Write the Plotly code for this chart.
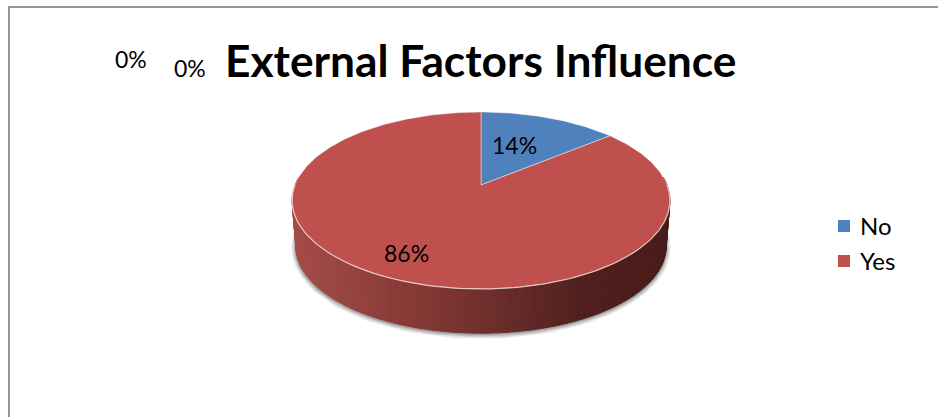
import numpy as np
import plotly.graph_objects as go

# Chart content
TITLE = "External Factors Influence"
categories = ["No", "Yes"]
values = [14, 86]
zero_labels = ["0%", "0%"]

slice_colors = ["#4F81BD", "#C0504D"]

# Canvas and pie geometry, in page pixels
WIDTH, HEIGHT = 938, 417
CX, CY = 481.0, 185.0      # where the slices meet
RADIUS = 186.0
TILT = 0.175               # foreshortening of the far half
RISE = -53.4
DEPTH = 46.0
BASE_SCALE = 0.98
ELLIPSE_MID_Y = 200.5


def rim(theta):
    """Project a clockwise angle from 12 o'clock onto the tilted disc."""
    u, v = np.sin(theta), np.cos(theta)
    w = 1 + TILT * v
    return CX + RADIUS * u / w, (RISE * v + CY) / w


def base(theta):
    """Same angle on the lower face of the disc."""
    x, y = rim(theta)
    return CX + (x - CX) * BASE_SCALE, ELLIPSE_MID_Y + (y - ELLIPSE_MID_Y) * BASE_SCALE + DEPTH


def side_color(t):
    """Left-to-right shading of the front wall."""
    stops = [(0.0, (164, 76, 72)), (0.3, (136, 58, 54)), (0.55, (105, 45, 42)),
             (0.78, (78, 31, 29)), (1.0, (72, 28, 26))]
    for (t0, c0), (t1, c1) in zip(stops, stops[1:]):
        if t <= t1:
            k = (t - t0) / (t1 - t0)
            return "rgb(%d,%d,%d)" % tuple(round(a + (b - a) * k) for a, b in zip(c0, c1))
    return "rgb(72,28,26)"


fig = go.Figure()

# Soft shadow hugging the lower face
front = np.linspace(np.pi * 0.47, np.pi * 1.53, 160)
for width, alpha in [(10, 0.08), (8, 0.10), (6, 0.13), (4, 0.18), (2, 0.25)]:
    sx, sy = base(front)
    fig.add_trace(go.Scatter(x=sx, y=sy + 1, mode="lines",
                             line=dict(color=f"rgba(90,90,90,{alpha})", width=width),
                             hoverinfo="skip", showlegend=False))

# Front wall, built from narrow shaded strips
edges = np.linspace(np.pi * 0.47, np.pi * 1.53, 91)
for a0, a1 in zip(edges[:-1], edges[1:]):
    arc = np.linspace(a0, a1, 4)
    tx, ty = rim(arc)
    bx, by = base(arc[::-1])
    t = float(np.clip((bx.mean() - (CX - RADIUS)) / (2 * RADIUS), 0, 1))
    color = side_color(t)
    fig.add_trace(go.Scatter(x=np.r_[tx, bx, tx[0]], y=np.r_[ty, by, ty[0]],
                             mode="lines", fill="toself", fillcolor=color,
                             line=dict(color=color, width=1),
                             hoverinfo="skip", showlegend=False))

# Top faces of the slices, swept clockwise from 12 o'clock
fractions = np.cumsum([0] + values) / sum(values)
for name, color, f0, f1 in zip(categories, slice_colors, fractions[:-1], fractions[1:]):
    arc = 2 * np.pi * np.linspace(f0, f1, max(int((f1 - f0) * 360), 8))
    rx, ry = rim(arc)
    fig.add_trace(go.Scatter(x=np.r_[CX, rx, CX], y=np.r_[CY, ry, CY],
                             mode="lines", fill="toself", fillcolor=color,
                             line=dict(color="rgba(255,255,255,0.55)", width=0.8),
                             name=name, hoverinfo="skip", showlegend=False))

# Bright bevel along the front rim
hx, hy = rim(np.linspace(np.pi * 0.5, np.pi * 1.5, 120))
fig.add_trace(go.Scatter(x=hx, y=hy, mode="lines",
                         line=dict(color="rgba(255,235,232,0.6)", width=1.2),
                         hoverinfo="skip", showlegend=False))

# Key swatches beside the chart
KEY_X, KEY_Y, KEY_TEXT_X = 844, [226, 261], 858
fig.add_trace(go.Scatter(x=[KEY_X] * len(categories), y=KEY_Y, mode="markers",
                         marker=dict(symbol="square", size=12, color=slice_colors),
                         hoverinfo="skip", showlegend=False))

# Value labels, title and key text
label_font = dict(family="Lato", size=23, color="#000000")
key_font = dict(family="Lato", size=24, color="#000000")
annotations = [
    dict(x=514, y=145, text=f"{values[0]}%", font=label_font),
    dict(x=406, y=253, text=f"{values[1]}%", font=label_font),
    dict(x=131, y=59, text=zero_labels[0], font=label_font),
    dict(x=190, y=68, text=zero_labels[1], font=label_font),
    dict(x=480.5, y=59, text=f"<b>{TITLE}</b>",
         font=dict(family="Lato", size=44.3, color="#000000")),
]
for name, y in zip(categories, KEY_Y):
    annotations.append(dict(x=KEY_TEXT_X, y=y - 1, text=name, font=key_font, xanchor="left"))
for a in annotations:
    a.setdefault("xanchor", "center")
    a.update(xref="x", yref="y", showarrow=False, yanchor="middle")

# Chart frame: only its left and top edges fall on the canvas
frame = dict(type="line", xref="x", yref="y", line=dict(color="#969696", width=2))
shapes = [dict(frame, x0=9, y0=7, x1=9, y1=HEIGHT),
          dict(frame, x0=8, y0=7, x1=WIDTH, y1=7)]

fig.update_layout(
    width=WIDTH, height=HEIGHT,
    margin=dict(l=0, r=0, t=0, b=0),
    paper_bgcolor="#FFFFFF", plot_bgcolor="#FFFFFF",
    showlegend=False,
    xaxis=dict(range=[0, WIDTH], visible=False, fixedrange=True),
    yaxis=dict(range=[HEIGHT, 0], visible=False, fixedrange=True),
    annotations=annotations, shapes=shapes,
)

fig.write_html("out.html", config=dict(displayModeBar=False))
